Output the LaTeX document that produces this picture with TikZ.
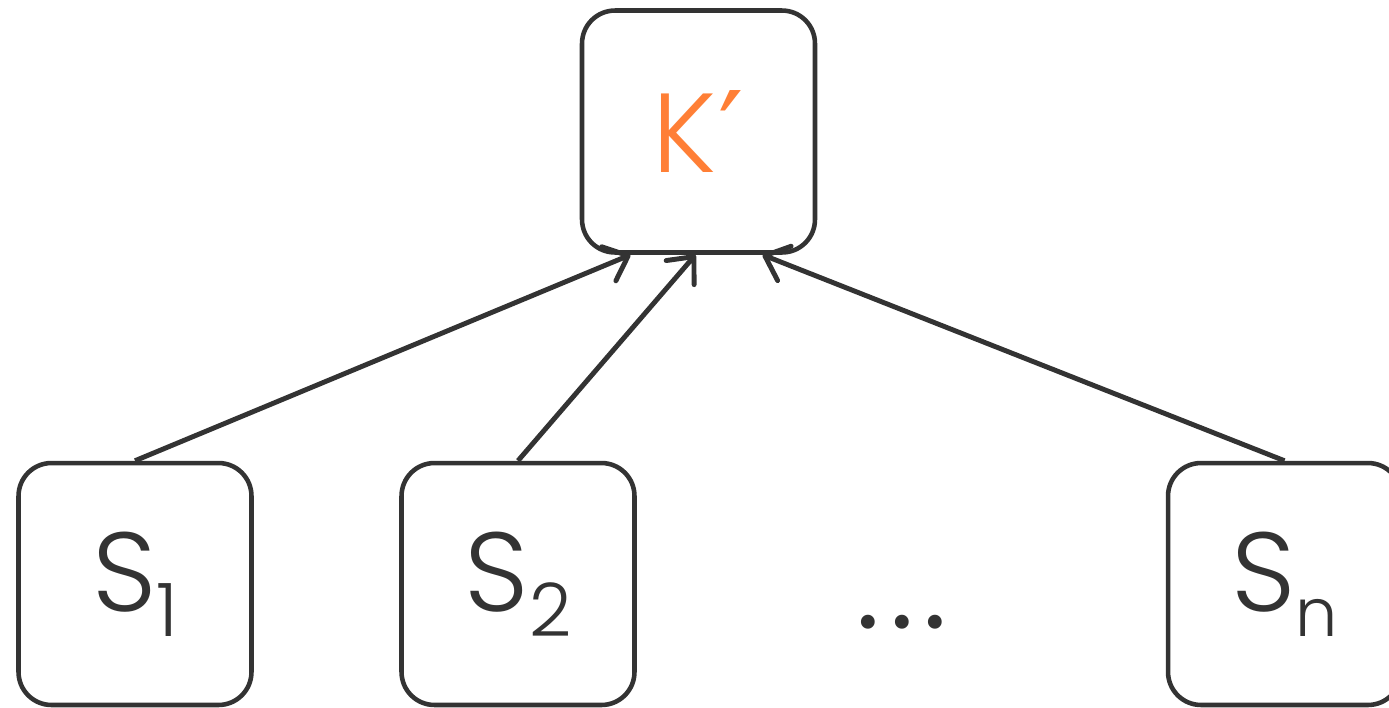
\documentclass[tikz,border=0pt]{standalone}
\usepackage{fontspec}
\setmainfont{Poppins}[UprightFont=* Light]
\newfontfamily\regfont{Poppins}
\newfontfamily\symfont{DejaVu Sans}
\usetikzlibrary{arrows.meta,calc}
\definecolor{ink}{HTML}{333333}
\definecolor{kor}{HTML}{FF7F36}
\tikzset{
  box/.style={draw=ink, line width=2.6pt, rounded corners=0.66cm, minimum width=4.66cm, minimum height=4.84cm, inner sep=0pt, text=ink, font=\fontsize{64}{70}\selectfont},
  link/.style={draw=ink, line width=2.8pt, -{Straight Barb[length=12pt,width=21pt,line cap=round,line join=round]}}
}
\newcommand{\sub}[2][42]{\raisebox{-0.5cm}{\fontsize{#1}{46}\selectfont #2}}
\begin{document}
\begin{tikzpicture}[x=0.02cm,y=-0.02cm]
\useasboundingbox (0,0) rectangle (1389,707);
\begin{scope}
\clip (0,0) rectangle (1389,707);
\node[box, text=kor] (k) at (698.5,131.5) {K\kern0.04cm{\symfont ′}};
\node[box] (s1) at (135,584) {S\sub{1}};
\node[box] (s2) at (518,584) {S\sub{2}};
\node[box] (sn) at (1284.5,584) {S\sub[38]{n}};
\node[text=ink, font=\regfont\fontsize{64}{70}\selectfont, inner sep=0pt, anchor=base] (dots) at (902,628) {.\kern0.2cm.\kern0.2cm.};
\draw[link] (s1.north) -- ($(k.south)+(-68,0)$);
\draw[link] (s2.north) -- ($(k.south)+(-3,0)$);
\draw[link] (sn.north) -- ($(k.south)+(64,0)$);
\end{scope}
\end{tikzpicture}
\end{document}
